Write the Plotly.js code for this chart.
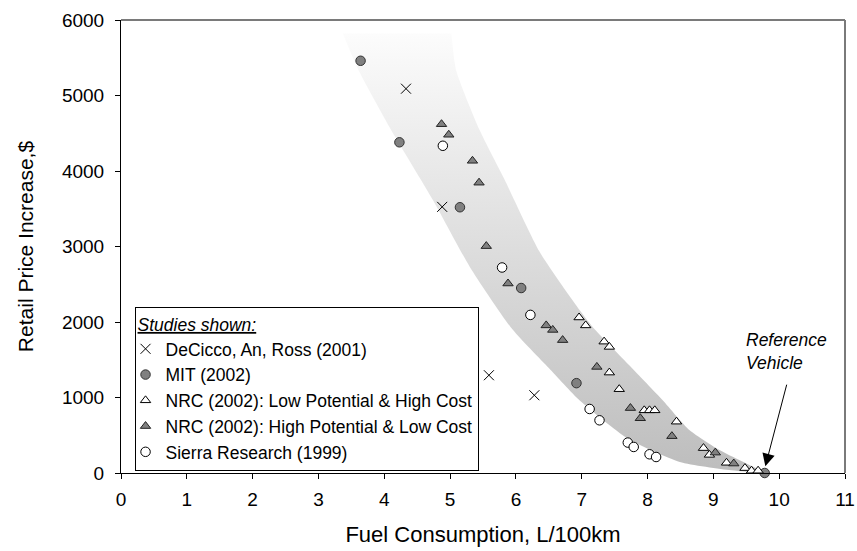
<!DOCTYPE html>
<html>
<head>
<meta charset="utf-8">
<script src="https://cdn.plot.ly/plotly-3.0.1.min.js"></script>
<style>html,body{margin:0;padding:0;background:#fff;}#chart{width:857px;height:551px;}</style>
</head>
<body>
<div id="chart"></div>
<script>
// --- Data ---
const deciccoX = [4.33, 4.88, 5.59, 6.28];
const deciccoY = [5090, 3525, 1295, 1030];

const mitX = [3.64, 4.23, 5.15, 6.08, 6.92, 9.78];
const mitY = [5460, 4380, 3520, 2450, 1190, 0];

const nrcLowX = [6.96, 7.06, 7.34, 7.42, 7.42, 7.57, 7.95, 8.03, 8.11, 8.44, 8.85, 8.94, 9.20, 9.48, 9.58, 9.68];
const nrcLowY = [2060, 1955, 1740, 1670, 1330, 1110, 830, 830, 830, 680, 330, 240, 135, 65, 30, 30];

const nrcHighX = [4.87, 4.98, 5.34, 5.44, 5.55, 5.88, 6.46, 6.56, 6.71, 7.23, 7.74, 7.89, 8.37, 9.03, 9.31];
const nrcHighY = [4620, 4480, 4135, 3845, 3005, 2510, 1955, 1895, 1760, 1405, 860, 725, 488, 270, 125];

const sierraX = [4.89, 5.79, 6.22, 7.12, 7.27, 7.70, 7.79, 8.03, 8.13];
const sierraY = [4334, 2722, 2094, 848, 698, 403, 345, 248, 212];

// shaded trend band (lower/left and upper/right edges, top to bottom)
const bandLowerX = [3.37, 3.6, 4.1, 4.75, 5.3, 5.95, 6.5, 6.97, 7.7, 8.49, 9.27, 9.8];
const bandLowerY = [5820, 5350, 4550, 3600, 2730, 1900, 1390, 960, 456, 146, 36, 0];
const bandUpperX = [5.02, 5.09, 5.45, 5.82, 6.36, 6.97, 7.2, 7.73, 8.23, 8.64, 9.10, 9.50, 9.8];
const bandUpperY = [5820, 5338, 4539, 3900, 2930, 2156, 1900, 1420, 964, 566, 300, 125, 0];

const legendNames = [
  'DeCicco, An, Ross (2001)',
  'MIT (2002)',
  'NRC (2002): Low Potential & High Cost',
  'NRC (2002): High Potential & Low Cost',
  'Sierra Research (1999)'
];

// arrow annotation endpoints (Reference Vehicle)
const refTip = [9.79, 90];
const refTail = [10.12, 1190];
const refLabel = [9.47, 1606];

// --- Build ---
const FONT = 'Liberation Sans, Arial, sans-serif';
const bandX = bandLowerX.concat(bandUpperX.slice().reverse());
const bandY = bandLowerY.concat(bandUpperY.slice().reverse());

const traces = [
  {
    x: bandX, y: bandY, type: 'scatter', mode: 'lines',
    line: {width: 0, shape: 'spline', smoothing: 0.6},
    fill: 'toself',
    fillgradient: {type: 'vertical', colorscale: [[0, '#bdbdbd'], [1, '#fcfcfc']]},
    showlegend: false, hoverinfo: 'skip'
  },
  {
    x: deciccoX, y: deciccoY, type: 'scatter', mode: 'markers', name: legendNames[0],
    marker: {symbol: 'x-thin-open', size: 10, color: '#000', line: {width: 1, color: '#000'}},
    cliponaxis: false
  },
  {
    x: mitX, y: mitY, type: 'scatter', mode: 'markers', name: legendNames[1],
    marker: {symbol: 'circle', size: 9.5, color: '#808080', line: {width: 1, color: '#333'}},
    cliponaxis: false
  },
  {
    x: nrcLowX, y: nrcLowY, type: 'scatter', mode: 'markers', name: legendNames[2],
    marker: {symbol: 'triangle-up', size: 9, color: '#ffffff', line: {width: 1, color: '#000'}},
    cliponaxis: false
  },
  {
    x: nrcHighX, y: nrcHighY, type: 'scatter', mode: 'markers', name: legendNames[3],
    marker: {symbol: 'triangle-up', size: 9, color: '#808080', line: {width: 1, color: '#222'}},
    cliponaxis: false
  },
  {
    x: sierraX, y: sierraY, type: 'scatter', mode: 'markers', name: legendNames[4],
    marker: {symbol: 'circle', size: 9.5, color: '#ffffff', line: {width: 1, color: '#000'}},
    cliponaxis: false
  }
];

const layout = {
  width: 857, height: 551,
  margin: {l: 121, r: 12, t: 20, b: 78},
  paper_bgcolor: '#fff', plot_bgcolor: '#fff',
  font: {family: FONT, size: 18, color: '#000'},
  showlegend: true,
  xaxis: {
    range: [0, 11], dtick: 1, tick0: 0, showgrid: false, zeroline: false,
    showline: true, linecolor: '#000', linewidth: 1,
    ticks: 'outside', ticklen: 5, tickcolor: '#000',
    ticklabelstandoff: 4,
    tickfont: {family: FONT, size: 19},
    title: {text: 'Fuel Consumption, L/100km', font: {family: FONT, size: 22}, standoff: 17}
  },
  yaxis: {
    range: [0, 6000], dtick: 1000, tick0: 0, showgrid: false, zeroline: false,
    showline: true, linecolor: '#000', linewidth: 1,
    ticks: 'outside', ticklen: 5, tickcolor: '#000',
    ticklabelstandoff: 7,
    tickfont: {family: FONT, size: 19},
    title: {text: 'Retail Price Increase,$', font: {family: FONT, size: 21}, standoff: 22}
  },
  xaxis2: {
    overlaying: 'x', range: [0, 11], dtick: 1, tick0: 0, showgrid: false, zeroline: false,
    showline: false, ticks: 'inside', ticklen: 4, tickcolor: '#000', showticklabels: false
  },
  yaxis2: {
    overlaying: 'y', range: [0, 6000], dtick: 1000, tick0: 0, showgrid: false, zeroline: false,
    showline: false, ticks: 'inside', ticklen: 4, tickcolor: '#000', showticklabels: false
  },
  legend: {
    x: 0.0187, y: 0.366, xanchor: 'left', yanchor: 'top',
    bgcolor: '#fff', bordercolor: '#000', borderwidth: 1,
    font: {family: FONT, size: 17.5, color: '#000'},
    title: {text: '<i><u>Studies shown:</u></i>', font: {family: FONT, size: 17.5}},
    indentation: -10,
    itemsizing: 'trace'
  },
  shapes: [
    {type: 'line', xref: 'paper', yref: 'paper', x0: 0, x1: 1, y0: 1, y1: 1, line: {color: '#7a7a7a', width: 2}},
    {type: 'line', xref: 'paper', yref: 'paper', x0: 1, x1: 1, y0: 0, y1: 1, line: {color: '#7a7a7a', width: 2}}
  ],
  annotations: [
    {
      x: refLabel[0], y: refLabel[1], xref: 'x', yref: 'y',
      text: '<i>Reference<br>Vehicle</i>', showarrow: false,
      xanchor: 'left', yanchor: 'middle', align: 'left',
      font: {family: FONT, size: 17.5, color: '#000'}
    },
    {
      x: refTip[0], y: refTip[1], xref: 'x', yref: 'y',
      ax: refTail[0], ay: refTail[1], axref: 'x', ayref: 'y',
      text: '', showarrow: true, arrowhead: 2, arrowsize: 2.5, arrowwidth: 1, arrowcolor: '#000'
    }
  ]
};

Plotly.newPlot('chart', traces, layout, {displayModeBar: false, staticPlot: true});
</script>
</body>
</html>
